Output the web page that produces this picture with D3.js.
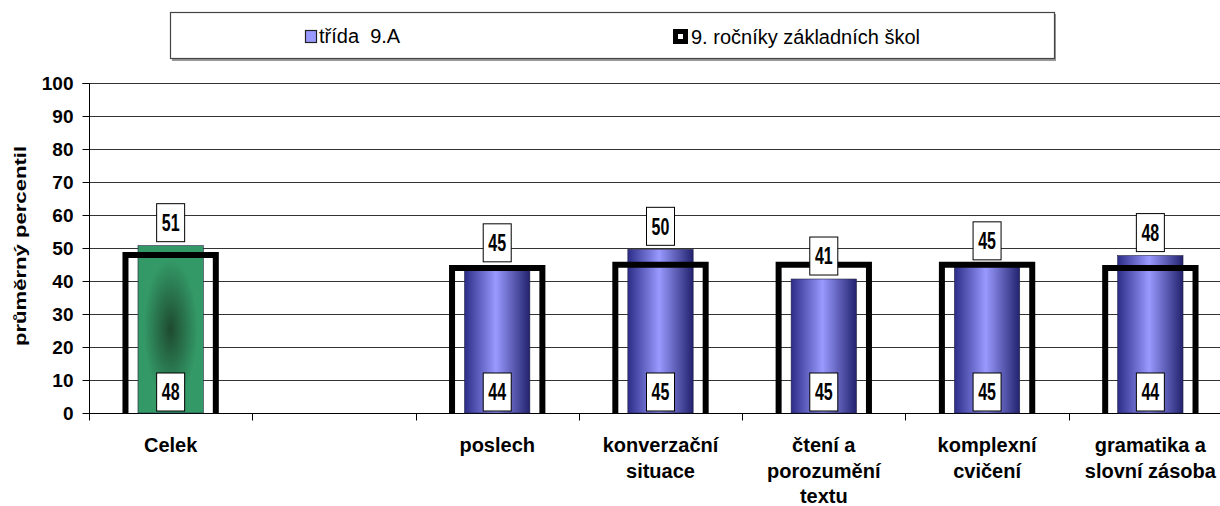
<!DOCTYPE html>
<html>
<head>
<meta charset="utf-8">
<script src="https://cdn.jsdelivr.net/npm/d3@7"></script>
<style>
  html, body { margin: 0; padding: 0; background: #fff; }
  svg { display: block; font-family: "Liberation Sans", Arial, sans-serif; }
</style>
</head>
<body>
<svg id="chart" width="1220" height="506"></svg>
<script>
// ---- data ----
const categories = ["Celek", "", "poslech", "konverzační situace", "čtení a porozumění textu", "komplexní cvičení", "gramatika a slovní zásoba"];
const categoryLines = [["Celek"], [], ["poslech"], ["konverzační", "situace"], ["čtení a", "porozumění", "textu"], ["komplexní", "cvičení"], ["gramatika a", "slovní zásoba"]];
const classValues = [50.7, null, 44.6, 49.6, 40.6, 45.2, 47.7];      // třída 9.A
const nationalValues = [48.3, null, 44.4, 45.4, 45.4, 45.4, 44.4];   // 9. ročníky základních škol
const yTicks = [0, 10, 20, 30, 40, 50, 60, 70, 80, 90, 100];
const seriesNames = ["třída  9.A", "9. ročníky základních škol"];
const yTitle = "průměrný percentil";

(function () {
// ---- layout ----
const svg = d3.select("#chart");
const pLeft = 89, pRight = 1232, pTop = 83, pBottom = 413;

const x = d3.scaleBand().domain(categories).range([pLeft, pRight]).padding(0);
const y = d3.scaleLinear().domain([0, 100]).range([pBottom, pTop]);

const defs = svg.append("defs");
const blue = defs.append("linearGradient").attr("id", "gBlue").attr("x1", "0%").attr("x2", "100%").attr("y1", "0%").attr("y2", "0%");
blue.append("stop").attr("offset", "0%").attr("stop-color", "#2c2c88");
blue.append("stop").attr("offset", "48%").attr("stop-color", "#9999ff");
blue.append("stop").attr("offset", "100%").attr("stop-color", "#22226e");

const green = defs.append("radialGradient").attr("id", "gGreen").attr("cx", "50%").attr("cy", "50%").attr("r", "55%");
green.append("stop").attr("offset", "0%").attr("stop-color", "#1e4a30");
green.append("stop").attr("offset", "75%").attr("stop-color", "#339966");
green.append("stop").attr("offset", "100%").attr("stop-color", "#339966");

// ---- gridlines ----
svg.append("g").selectAll("line").data(yTicks).join("line")
  .attr("x1", pLeft).attr("x2", 1220)
  .attr("y1", d => Math.round(y(d)) + 0.5).attr("y2", d => Math.round(y(d)) + 0.5)
  .attr("stroke", "#333").attr("stroke-width", 1);

// ---- y axis ----
const yAxis = d3.axisLeft(y).tickValues(yTicks).tickSize(7).tickPadding(9);
const yg = svg.append("g").attr("transform", `translate(${pLeft + 0.5},0)`).call(yAxis);
yg.select(".domain").attr("stroke", "#000").attr("d", `M-7,${pTop + 0.5}H0V${pBottom + 7}`);
yg.selectAll(".tick line").attr("stroke", "#000");
yg.selectAll(".tick text").attr("font-size", 19).attr("font-weight", "bold").attr("fill", "#000")
  .attr("font-family", "'Liberation Sans', Arial, sans-serif");

// ---- x axis ----
const xg = svg.append("g").attr("transform", `translate(0,${pBottom + 0.5})`);
xg.append("line").attr("x1", pLeft).attr("x2", 1220).attr("stroke", "#000");
const boundaries = categories.map(c => x(c)).concat([x(categories[categories.length - 1]) + x.bandwidth()]);
xg.selectAll("line.tk").data(boundaries).join("line").attr("class", "tk")
  .attr("x1", d => Math.round(d) + 0.5).attr("x2", d => Math.round(d) + 0.5)
  .attr("y1", 0).attr("y2", 7).attr("stroke", "#000");

// ---- category labels ----
const lab = svg.append("g");
categories.forEach((c, i) => {
  const cx = x(c) + x.bandwidth() / 2;
  categoryLines[i].forEach((line, j) => {
    lab.append("text").attr("x", cx).attr("y", 452 + j * 25.5)
      .attr("text-anchor", "middle").attr("font-size", 20).attr("font-weight", "bold").text(line);
  });
});

// ---- bars ----
const barW = x.bandwidth() * 0.4;
const outW = x.bandwidth() * 0.59;
const idx = d3.range(categories.length).filter(i => classValues[i] != null);

svg.append("g").selectAll("rect").data(idx).join("rect")
  .attr("x", i => x(categories[i]) + (x.bandwidth() - barW) / 2)
  .attr("width", barW)
  .attr("y", i => y(classValues[i]))
  .attr("height", i => pBottom - y(classValues[i]))
  .attr("fill", i => i === 0 ? "url(#gGreen)" : "url(#gBlue)")
  .attr("stroke", "#222244").attr("stroke-width", 0.6);

// outlines (national)
const sw = 6;
svg.append("g").selectAll("path").data(idx).join("path")
  .attr("d", i => {
    const x0 = x(categories[i]) + (x.bandwidth() - outW) / 2 + sw / 2;
    const x1 = x(categories[i]) + (x.bandwidth() + outW) / 2 - sw / 2;
    const yt = y(nationalValues[i]) + 1.5;
    return `M${x0},${pBottom}V${yt}H${x1}V${pBottom}`;
  })
  .attr("fill", "none").attr("stroke", "#000").attr("stroke-width", sw).attr("stroke-linejoin", "miter");

// ---- value labels ----
const bw = 28, bh = 38;
function valueLabel(g, cx, yBottom, v) {
  g.append("rect").attr("x", cx - bw / 2).attr("y", yBottom - bh).attr("width", bw).attr("height", bh)
    .attr("fill", "#fff").attr("stroke", "#000").attr("stroke-width", 1);
  g.append("text").attr("transform", `translate(${cx},${yBottom - bh / 2}) scale(1,1.45)`)
    .attr("text-anchor", "middle").attr("dy", "0.36em")
    .attr("font-size", 16).attr("font-weight", "bold").text(Math.round(v));
}
const vl = svg.append("g");
idx.forEach(i => {
  const cx = x(categories[i]) + x.bandwidth() / 2;
  valueLabel(vl, cx, y(classValues[i]) - 4, classValues[i]);
  valueLabel(vl, cx, pBottom - 2, nationalValues[i]);
});

// ---- y title ----
svg.append("text").attr("transform", `translate(26,246) rotate(-90) scale(1.3,1)`)
  .attr("text-anchor", "middle").attr("font-size", 17).attr("font-weight", "bold").text(yTitle);

// ---- legend ----
const lg = svg.append("g");
lg.append("rect").attr("x", 172).attr("y", 14).attr("width", 884).attr("height", 47).attr("fill", "#999");
lg.append("rect").attr("x", 170.5).attr("y", 12.5).attr("width", 884).attr("height", 46)
  .attr("fill", "#fff").attr("stroke", "#444").attr("stroke-width", 1.2);
lg.append("rect").attr("x", 305.5).attr("y", 30.5).attr("width", 11).attr("height", 12)
  .attr("fill", "#9999ff").attr("stroke", "#222").attr("stroke-width", 1.2);
lg.append("text").attr("x", 319).attr("y", 43).attr("font-size", 20).attr("xml:space", "preserve").text(seriesNames[0]);
lg.append("rect").attr("x", 673).attr("y", 29).attr("width", 15).attr("height", 15).attr("fill", "#000");
lg.append("rect").attr("x", 678).attr("y", 34).attr("width", 5).attr("height", 5).attr("fill", "#fff");
lg.append("text").attr("x", 691).attr("y", 44).attr("font-size", 20).text(seriesNames[1]);
})();
</script>
</body>
</html>
